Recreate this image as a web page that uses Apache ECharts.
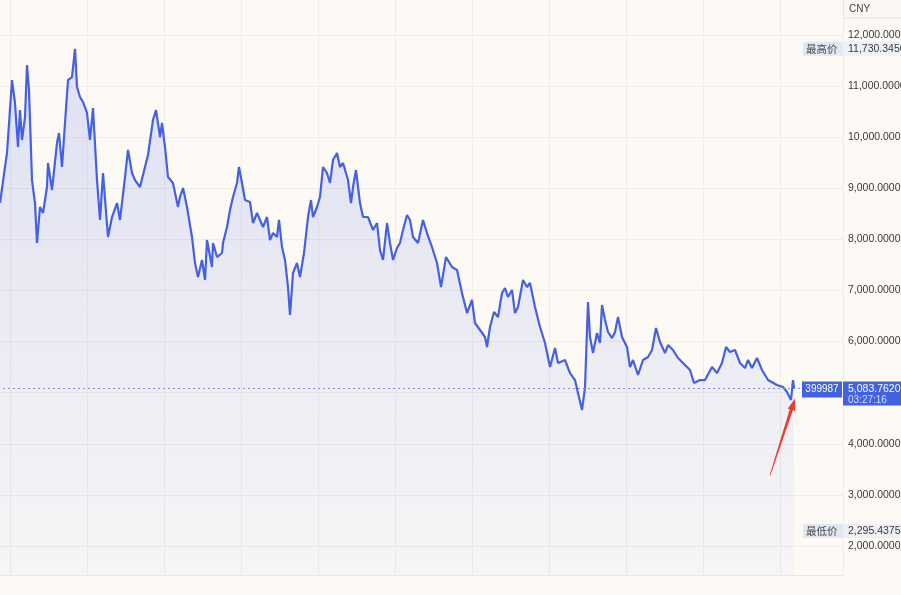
<!DOCTYPE html>
<html><head><meta charset="utf-8">
<script src="https://cdn.jsdelivr.net/npm/echarts@6/dist/echarts.min.js"></script>
<style>html,body{margin:0;padding:0;background:#fdfaf6;}#c{width:901px;height:595px;}</style>
</head><body><div id="c"></div>
<script>
// trading-day index and close prices
const tradeDay = [
  0,5,7,12,15,17,18,20,22,25,
  27,29,32,35,37,40,43,47,48,52,
  57,59,62,65,68,72,75,77,80,83,
  87,90,93,97,100,103,108,112,117,120,
  125,128,132,135,140,145,148,153,156,160,
  162,165,168,173,178,180,183,187,192,195,
  198,202,205,207,212,213,217,222,223,227,
  230,233,237,239,242,245,250,253,257,260,
  263,267,270,273,277,279,282,285,288,290,
  293,297,300,304,308,311,313,317,320,323,
  327,330,333,337,340,343,348,351,353,356,
  360,363,368,373,377,380,383,387,390,393,
  397,400,403,407,410,413,418,423,427,432,
  437,441,446,452,457,462,467,472,475,480,
  485,487,490,494,498,502,505,508,512,515,
  518,523,527,530,535,540,545,550,555,558,
  565,570,575,578,582,585,588,590,593,597,
  600,602,605,608,612,615,618,622,627,630,
  633,638,643,648,652,656,660,665,668,673,
  678,683,690,694,700,705,712,717,722,726,
  730,735,740,745,748,752,757,762,768,777,
  783,787,791,793,794
];
const closePrice = [
  8712,9417,9691,11119,10669,10082,9808,10532,9945,10395,
  11413,10924,9162,8712,7930,8634,8517,9025,9495,8967,
  9886,10082,9417,10278,11119,11178,11730,10982,10787,10689,
  10474,9945,10571,9162,8380,9299,8047,8438,8712,8380,
  9221,9750,9299,9162,9025,9417,9652,10337,10532,10004,
  10278,9808,9221,9104,8634,8830,9006,8634,8047,7538,
  7264,7597,7205,7988,7460,7930,7655,7734,7930,8243,
  8575,8830,9104,9417,9104,8771,8732,8321,8517,8380,
  8243,8438,7988,8125,8047,8380,7851,7597,7068,6520,
  7342,7538,7264,7734,8438,8771,8438,8634,8830,9417,
  9299,9104,9554,9691,9417,9495,9162,8712,9025,9358,
  8712,8438,8438,8184,8321,7792,7597,8321,7930,7597,
  7832,7930,8184,8477,8380,8047,7930,8380,8125,7851,
  7538,7068,7655,7460,7401,6951,6560,6814,6364,6227,
  6090,5894,6286,6579,6481,6951,7049,6873,7010,6560,
  6677,7205,7068,7147,6677,6286,5972,5503,5875,5581,
  5640,5385,5248,4994,4661,5111,6775,6090,5777,6168,
  5972,6716,6423,6188,6070,6188,6481,6090,5894,5503,
  5640,5346,5640,5699,5836,6266,5992,5777,5933,5836,
  5679,5581,5444,5190,5248,5248,5503,5385,5581,5894,
  5796,5836,5581,5483,5640,5483,5679,5444,5248,5150,
  5111,5014,4857,5248,5083.762
];
const yTickMin = 2000;
const yTickMax = 12000;
const yTickStep = 1000;
const currency = 'CNY';
const symbolCode = '399987';
const lastPrice = 5083.762;
const countdown = '03:27:16';
const highPrice = 11730.345;
const lowPrice = 2295.4375;
const highLabel = '最高价';
const lowLabel = '最低价';

const DAY_SHIFT = 67;   // aligns vertical grid with the time scale
const fmt4 = v => Number(v).toLocaleString('en-US',{minimumFractionDigits:4,maximumFractionDigits:4});

const chart = echarts.init(document.getElementById('c'), null, {renderer:'canvas'});
const lineBlue = '#4560e2';
const gridColor = '#f1ede8';
const labelFont = "'Liberation Sans', Arial, sans-serif";
const cjkFont = "'Noto Sans CJK SC', sans-serif";

chart.setOption({
  backgroundColor:'#fdfaf6',
  animation:false,
  grid:[
    {left:-67, right:58, top:0, bottom:20, outerBoundsMode:'none', containLabel:false},
    {left:-67, right:58, top:35, bottom:49, outerBoundsMode:'none', containLabel:false}
  ],
  xAxis:[
    {gridIndex:0, type:'value', min:0, max:910, interval:77,
     axisLabel:{show:false}, axisTick:{show:false},
     axisLine:{show:true, lineStyle:{color:'#ebe7e1'}},
     splitLine:{show:true, lineStyle:{color:gridColor, width:1}}},
    {gridIndex:1, type:'value', min:0, max:910, show:false}
  ],
  yAxis:[
    {gridIndex:0, type:'value', min:1432.5, max:12685, show:false},
    {gridIndex:1, type:'value', position:'right', min:yTickMin, max:yTickMax, interval:yTickStep,
     axisLine:{show:false}, axisTick:{show:false},
     axisLabel:{margin:5, color:'#3a3a3a', fontSize:10.5, fontFamily:labelFont, formatter:fmt4},
     splitLine:{show:true, lineStyle:{color:gridColor, width:1}}}
  ],
  series:[{
    type:'line', xAxisIndex:0, yAxisIndex:0,
    data: tradeDay.map((d,i)=>[d+DAY_SHIFT, closePrice[i]]),
    symbol:'none', showSymbol:false,
    lineStyle:{color:lineBlue, width:2.2},
    areaStyle:{origin:'start', color:new echarts.graphic.LinearGradient(0,0,0,1,[
      {offset:0,color:'rgba(72,98,226,0.24)'},
      {offset:1,color:'rgba(72,98,226,0.05)'}])},
    markLine:{silent:true, symbol:'none', label:{show:false},
      lineStyle:{color:'#7d8fdc', type:[2,3], width:1},
      data:[{yAxis:lastPrice}]},
    z:3
  }]
});

const yPx = v => chart.convertToPixel({yAxisIndex:1}, v);
const lastPt = chart.convertToPixel({xAxisIndex:0, yAxisIndex:0}, [tradeDay[tradeDay.length-1]+DAY_SHIFT, lastPrice]);
const py = yPx(lastPrice), hy = yPx(highPrice), ly = yPx(lowPrice);
const tip = [lastPt[0]+1, lastPt[1]+10];
const tail = [tip[0]-25, tip[1]+77];

chart.setOption({graphic:[
  // currency box
  {type:'rect', shape:{x:843.5,y:-1,width:60,height:19}, style:{fill:'#faf7f3', stroke:'#e7e3dd', lineWidth:1}, z:50},
  {type:'text', x:849, y:9, style:{text:currency, fill:'#444', font:"10px "+labelFont, verticalAlign:'middle'}, z:51},
  // high label
  {type:'rect', shape:{x:803,y:hy-7,width:40,height:14}, style:{fill:'#e2e7f2'}, z:50},
  {type:'rect', shape:{x:843,y:hy-7,width:58,height:14}, style:{fill:'#eef0f5'}, z:50},
  {type:'text', x:806, y:hy, style:{text:highLabel, fill:'#4a4a4a', font:"10.5px "+cjkFont, verticalAlign:'middle'}, z:51},
  {type:'text', x:848, y:hy, style:{text:fmt4(highPrice), fill:'#3a3a3a', font:"10.5px "+labelFont, verticalAlign:'middle'}, z:51},
  // low label
  {type:'rect', shape:{x:803,y:ly-7,width:40,height:14}, style:{fill:'#e2e7f2'}, z:50},
  {type:'rect', shape:{x:843,y:ly-7,width:58,height:14}, style:{fill:'#eef0f5'}, z:50},
  {type:'text', x:806, y:ly, style:{text:lowLabel, fill:'#4a4a4a', font:"10.5px "+cjkFont, verticalAlign:'middle'}, z:51},
  {type:'text', x:848, y:ly, style:{text:fmt4(lowPrice), fill:'#3a3a3a', font:"10.5px "+labelFont, verticalAlign:'middle'}, z:51},
  // last price boxes
  {type:'rect', shape:{x:802,y:py-7,width:40,height:16}, style:{fill:'#4262e0'}, z:50},
  {type:'text', x:822, y:py+1, style:{text:symbolCode, fill:'#fff', font:"10px "+labelFont, align:'center', verticalAlign:'middle'}, z:51},
  {type:'rect', shape:{x:843,y:py-7,width:58,height:24}, style:{fill:'#4262e0'}, z:50},
  {type:'text', x:848, y:py+1, style:{text:fmt4(lastPrice), fill:'#fff', font:"10.5px "+labelFont, verticalAlign:'middle'}, z:51},
  {type:'text', x:848, y:py+12, style:{text:countdown, fill:'#d3dbff', font:"10px "+labelFont, verticalAlign:'middle'}, z:51},
  // red arrow annotation
  {type:'polygon', shape:{points:(function(){
      const dx=tip[0]-tail[0], dy=tip[1]-tail[1], L=Math.hypot(dx,dy);
      const ux=dx/L, uy=dy/L, nx=-uy, ny=ux;
      const hb=[tip[0]-ux*12, tip[1]-uy*12];
      return [
        [tail[0]-nx*0.4, tail[1]-ny*0.4],
        [hb[0]-nx*1.6, hb[1]-ny*1.6],
        [hb[0]-nx*3.8, hb[1]-ny*3.8],
        tip,
        [hb[0]+nx*3.8, hb[1]+ny*3.8],
        [hb[0]+nx*1.6, hb[1]+ny*1.6],
        [tail[0]+nx*0.4, tail[1]+ny*0.4]
      ];})()},
   style:{fill:'#ec3a2f'}, z:60}
]});
</script></body></html>
